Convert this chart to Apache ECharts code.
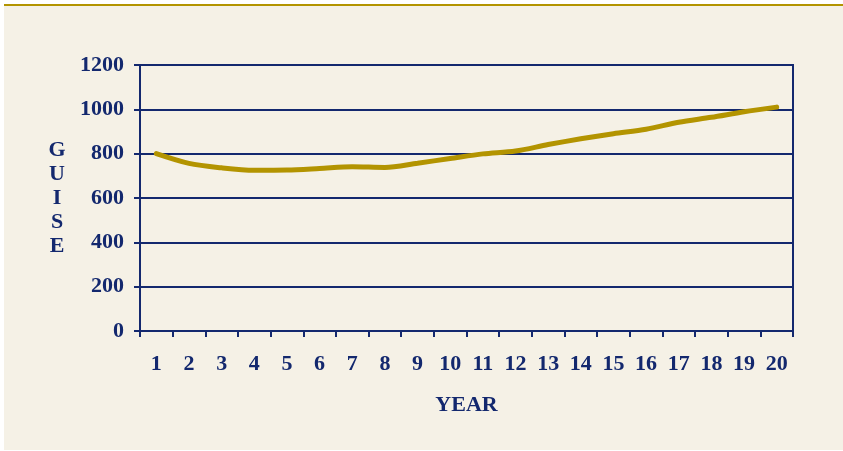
<!DOCTYPE html>
<html>
<head>
<meta charset="utf-8">
<script src="https://cdn.jsdelivr.net/npm/echarts@6/dist/echarts.min.js"></script>
<style>
  html, body { margin: 0; padding: 0; background: #ffffff; }
  #wrap { position: relative; width: 843px; height: 451px; overflow: hidden; }
  #panel { position: absolute; left: 4px; top: 6px; width: 839px; height: 444px; background: #f5f1e6; }
  #rule { position: absolute; left: 4px; top: 4px; width: 839px; height: 2px; background: #b39400; }
  #chart { position: absolute; left: 0; top: 0; width: 843px; height: 451px; }
</style>
</head>
<body>
<div id="wrap">
  <div id="panel"></div>
  <div id="rule"></div>
  <div id="chart"></div>
</div>
<script>
// Year categories along the bottom axis
const years = ['1','2','3','4','5','6','7','8','9','10','11','12','13','14','15','16','17','18','19','20'];
// Guise value for each year
const guise = [800, 756, 736, 725, 726, 733, 741, 738, 757, 778, 799, 812, 841, 867, 890, 910, 942, 964, 989, 1010];
// Vertical axis ticks
const yMin = 0, yMax = 1200, yStep = 200;

const navy = '#13286e';
const font = '"Liberation Serif", "Times New Roman", serif';

const chart = echarts.init(document.getElementById('chart'), null, { renderer: 'canvas' });
chart.setOption({
  backgroundColor: 'transparent',
  animation: false,
  grid: {
    left: 140, right: 50, top: 65, bottom: 120,
    show: true, borderColor: navy, borderWidth: 2, backgroundColor: 'transparent'
  },
  xAxis: {
    type: 'category',
    data: years,
    boundaryGap: true,
    name: 'YEAR',
    nameLocation: 'middle',
    nameGap: 63,
    nameTextStyle: { color: navy, fontFamily: font, fontWeight: 'bold', fontSize: 22 },
    axisLine: { lineStyle: { color: navy, width: 2 } },
    axisTick: { show: true, length: 6, lineStyle: { color: navy, width: 2 } },
    axisLabel: { color: navy, fontFamily: font, fontWeight: 'bold', fontSize: 22, margin: 22 },
    splitLine: { show: false }
  },
  yAxis: {
    type: 'value',
    min: yMin, max: yMax, interval: yStep,
    name: 'G\nU\nI\nS\nE',
    nameLocation: 'middle',
    nameRotate: 0,
    nameGap: 83,
    nameTextStyle: { color: navy, fontFamily: font, fontWeight: 'bold', fontSize: 22, lineHeight: 24, align: 'center', verticalAlign: 'middle' },
    axisLine: { show: true, lineStyle: { color: navy, width: 2 } },
    axisTick: { show: true, length: 6, lineStyle: { color: navy, width: 2 } },
    axisLabel: { color: navy, fontFamily: font, fontWeight: 'bold', fontSize: 22, margin: 16, formatter: v => String(v) },
    splitLine: { show: true, lineStyle: { color: navy, width: 2 } }
  },
  series: [{
    type: 'line',
    data: guise,
    smooth: 0.3,
    symbol: 'none',
    lineStyle: { color: '#b39400', width: 5, cap: 'round' }
  }]
});
</script>
</body>
</html>
